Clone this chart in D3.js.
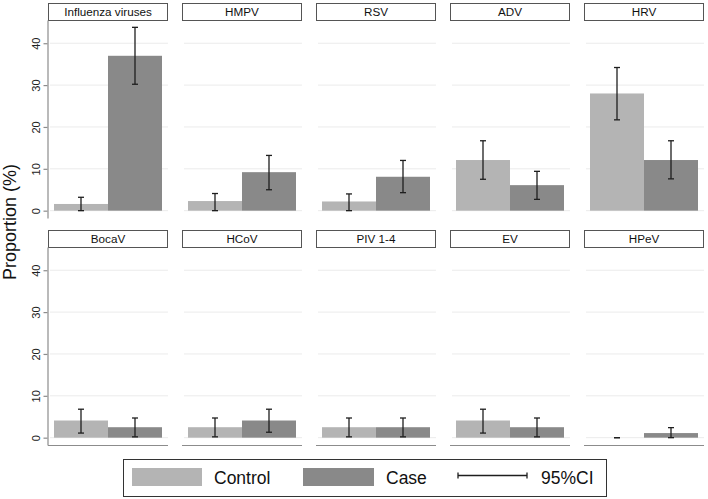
<!DOCTYPE html>
<html>
<head>
<meta charset="utf-8">
<script src="https://cdn.jsdelivr.net/npm/d3@7"></script>
<style>
  html, body { margin: 0; padding: 0; background: #fff; }
  svg { display: block; font-family: "Liberation Sans", Arial, Helvetica, sans-serif; }
</style>
</head>
<body>
<svg id="chart" width="708" height="499"></svg>
<script>
// ---- Data ----
const viruses = ["Influenza viruses", "HMPV", "RSV", "ADV", "HRV", "BocaV", "HCoV", "PIV 1-4", "EV", "HPeV"];
const groups = ["Control", "Case"];
const controlValues = [1.6, 2.3, 2.2, 12.1, 28.0, 4.1, 2.5, 2.5, 4.1, 0];
const controlLower  = [0, 0, 0, 7.5, 21.7, 1.1, 0.2, 0.2, 1.1, 0];
const controlUpper  = [3.2, 4.1, 4.0, 16.7, 34.2, 6.8, 4.7, 4.7, 6.8, 0];
const caseValues    = [37.0, 9.2, 8.1, 6.1, 12.1, 2.5, 4.1, 2.5, 2.5, 1.1];
const caseLower     = [30.2, 5.0, 4.3, 2.7, 7.6, 0.2, 1.3, 0.2, 0.2, 0];
const caseUpper     = [43.8, 13.2, 12.0, 9.4, 16.7, 4.7, 6.8, 4.7, 4.7, 2.4];
const yTicks = [0, 10, 20, 30, 40];
const legendLabels = ["Control", "Case", "95%CI"];

// ---- Layout ----
const svg = d3.select("#chart");
const colors = { Control: "#b4b4b4", Case: "#898989" };
const nCols = 5;
const colScale = d3.scaleBand().domain(d3.range(nCols)).range([48, 704]).paddingInner(0.1045).paddingOuter(0);
const rowTops = [3, 230];
const stripH = 17;
const plotTop = 17;     // offset from row top to plot top
const plotBottom = 215; // offset from row top to plot bottom
const yDomain = [-1.75, 45.55];

const data = viruses.map((v, i) => ({
  name: v,
  col: i % nCols,
  row: Math.floor(i / nCols),
  bars: [
    { group: "Control", value: controlValues[i], lo: controlLower[i], hi: controlUpper[i] },
    { group: "Case", value: caseValues[i], lo: caseLower[i], hi: caseUpper[i] }
  ]
}));

const pw = colScale.bandwidth();
const x = d3.scaleBand().domain(groups).range([6, pw - 6]).padding(0);

data.forEach(d => {
  const rt = rowTops[d.row];
  const y = d3.scaleLinear().domain(yDomain).range([rt + plotBottom, rt + plotTop]);
  const g = svg.append("g").attr("transform", `translate(${colScale(d.col)},0)`);

  // gridlines
  g.selectAll("line.grid").data(yTicks).join("line")
    .attr("class", "grid")
    .attr("x1", 2).attr("x2", pw)
    .attr("y1", t => y(t)).attr("y2", t => y(t))
    .attr("stroke", "#ebebeb").attr("stroke-width", 1);

  // bars
  g.selectAll("rect.bar").data(d.bars).join("rect")
    .attr("class", "bar")
    .attr("x", b => x(b.group))
    .attr("width", x.bandwidth())
    .attr("y", b => y(b.value))
    .attr("height", b => y(0) - y(b.value))
    .attr("fill", b => colors[b.group]);

  // error bars
  const eb = g.selectAll("g.err").data(d.bars).join("g").attr("class", "err")
    .attr("transform", b => `translate(${x(b.group) + x.bandwidth() / 2},0)`)
    .attr("stroke", "#1e1e1e").attr("stroke-width", 1.3);
  eb.append("line").attr("x1", 0).attr("x2", 0).attr("y1", b => y(b.lo)).attr("y2", b => y(b.hi));
  eb.append("line").attr("x1", -3).attr("x2", 3).attr("y1", b => y(b.lo)).attr("y2", b => y(b.lo));
  eb.append("line").attr("x1", -3).attr("x2", 3).attr("y1", b => y(b.hi)).attr("y2", b => y(b.hi));

  // strip
  g.append("rect").attr("x", 0.5).attr("y", rt + 0.5).attr("width", pw - 1).attr("height", stripH)
    .attr("fill", "#fff").attr("stroke", "#555").attr("stroke-width", 1);
  g.append("text").attr("x", pw / 2).attr("y", rt + 13.2).attr("text-anchor", "middle")
    .attr("font-size", 11.7).attr("fill", "#111").text(d.name);

  // x axis line (bottom row only)
  if (d.row === 1) {
    g.append("line").attr("x1", 0).attr("x2", pw)
      .attr("y1", y.range()[0] + 0.5).attr("y2", y.range()[0] + 0.5)
      .attr("stroke", "#8c8c8c").attr("stroke-width", 1.2);
  }

  // y axis (first column)
  if (d.col === 0) {
    const ax = svg.append("g").attr("transform", `translate(47.5,0)`)
      .call(d3.axisLeft(y).tickValues(yTicks).tickSize(4).tickSizeOuter(0).tickFormat(d3.format("d")));
    ax.select(".domain").attr("stroke", "#8c8c8c").attr("stroke-width", 1.2);
    ax.selectAll(".tick line").attr("stroke", "#8c8c8c").attr("stroke-width", 1.2);
    ax.selectAll(".tick text")
      .attr("transform", "rotate(-90)")
      .attr("x", 0).attr("y", -8).attr("dy", 0)
      .attr("text-anchor", "middle")
      .attr("font-size", 11).attr("fill", "#222")
      .attr("font-family", "'Liberation Sans', Arial, sans-serif");
  }
});

// y axis title
svg.append("text").attr("transform", "translate(16,222) rotate(-90)")
  .attr("text-anchor", "middle").attr("font-size", 18).attr("fill", "#111")
  .text("Proportion (%)");

// legend
const lg = svg.append("g");
lg.append("rect").attr("x", 123.5).attr("y", 459.5).attr("width", 483).attr("height", 37)
  .attr("fill", "#fff").attr("stroke", "#333").attr("stroke-width", 1);
lg.append("rect").attr("x", 132).attr("y", 468).attr("width", 70).attr("height", 18).attr("fill", colors.Control);
lg.append("text").attr("x", 214).attr("y", 484).attr("font-size", 17.5).attr("fill", "#111").text(legendLabels[0]);
lg.append("rect").attr("x", 303).attr("y", 468).attr("width", 71).attr("height", 18).attr("fill", colors.Case);
lg.append("text").attr("x", 386).attr("y", 484).attr("font-size", 17.5).attr("fill", "#111").text(legendLabels[1]);
const ci = lg.append("g").attr("stroke", "#1e1e1e").attr("stroke-width", 1.3);
ci.append("line").attr("x1", 458).attr("x2", 527).attr("y1", 475.5).attr("y2", 475.5);
ci.append("line").attr("x1", 458).attr("x2", 458).attr("y1", 472.5).attr("y2", 478.5);
ci.append("line").attr("x1", 527).attr("x2", 527).attr("y1", 472.5).attr("y2", 478.5);
lg.append("text").attr("x", 541).attr("y", 484).attr("font-size", 17.5).attr("fill", "#111").text(legendLabels[2]);
</script>
</body>
</html>
